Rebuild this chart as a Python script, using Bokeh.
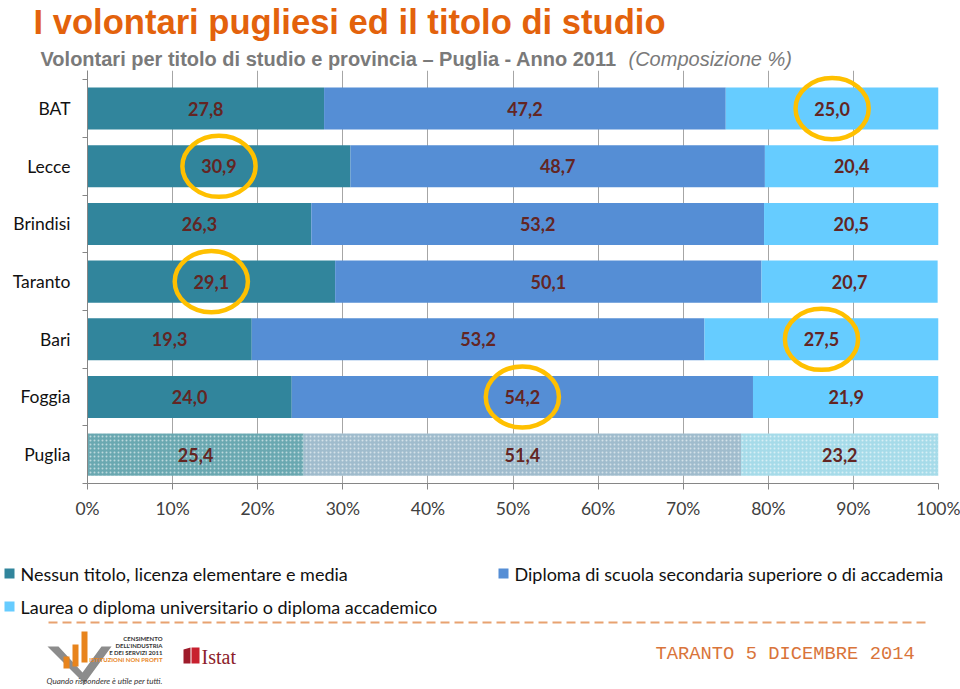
from bokeh.plotting import figure
from bokeh.layouts import column, row
from bokeh.models import (ColumnDataSource, Range1d, FixedTicker, Label,
                          PolyAnnotation, Arrow)
from bokeh.core.properties import value
from bokeh.embed import file_html
from bokeh.resources import INLINE

# ---------------- data ----------------
provinces = ["BAT", "Lecce", "Brindisi", "Taranto", "Bari", "Foggia", "Puglia"]
nessun = [27.8, 30.9, 26.3, 29.1, 19.3, 24.0, 25.4]
diploma = [47.2, 48.7, 53.2, 50.1, 53.2, 54.2, 51.4]
laurea = [25.0, 20.4, 20.5, 20.7, 27.5, 21.9, 23.2]
series_names = ["Nessun titolo, licenza elementare e media",
                "Diploma di scuola secondaria superiore o di accademia",
                "Laurea o diploma universitario o diploma accademico"]
x_ticks = [0, 10, 20, 30, 40, 50, 60, 70, 80, 90, 100]
x_tick_labels = ["0%", "10%", "20%", "30%", "40%", "50%", "60%", "70%", "80%", "90%", "100%"]
# highlighted cells: (province, series index)
circled = [("BAT", 2), ("Lecce", 0), ("Taranto", 0), ("Bari", 2), ("Foggia", 1)]

# ---------------- styles ----------------
colors = ["#31859c", "#558ed5", "#66ccff"]
total_colors = ["#6aa8b1", "#a0bccd", "#a6dbe9"]
label_color = "#632523"
FONT = "Lato"
W = 960
H_HEAD, H_CHART, H_FOOT = 70, 460, 159
legend_pos = [(9, 573), (503, 573), (9, 606)]   # square centres in page pixels
LABEL_DY = -7   # correction so that Label baselines land where intended


def blank_fig(height, y0, y1):
    f = figure(width=W, height=height, output_backend="svg", toolbar_location=None,
               x_range=Range1d(0, W), y_range=Range1d(y1, y0),
               x_axis_type=None, y_axis_type=None,
               min_border=0, min_border_left=0, min_border_right=0,
               min_border_top=0, min_border_bottom=0)
    f.grid.visible = False
    f.outline_line_color = None
    return f


def add_label(f, text, x, y, size, color, font="Liberation Sans", style="normal",
              align="left"):
    f.add_layout(Label(x=x, y=y + LABEL_DY, text=text, text_font=font, text_font_size=size,
                       text_color=color, text_font_style=style, text_align=align,
                       text_baseline="alphabetic"))


# ---------------- header ----------------
head = blank_fig(H_HEAD, 0, H_HEAD)
add_label(head, "I volontari pugliesi ed il titolo di studio", 33, 28, "34.6px", "#e3620c", style="bold")
add_label(head, "Volontari per titolo di studio e provincia \u2013 Puglia - Anno 2011", 40, 65,
          "20px", "#7a7a7a", style="bold")
add_label(head, "(Composizione %)", 628, 65, "20px", "#7a7a7a", style="italic")

# ---------------- chart ----------------
n = len(provinces)
ypos = [n - 1 - i for i in range(n)]
segs = [nessun, diploma, laurea]
lefts, rights = [], []
cum = [0.0] * n
for s in segs:
    lefts.append(cum[:])
    cum = [c + v for c, v in zip(cum, s)]
    rights.append(cum[:])

p = figure(width=W, height=H_CHART, output_backend="svg", toolbar_location=None,
           x_range=Range1d(0, 100), y_range=Range1d(-0.5, n - 0.5 + 0.16),
           min_border_left=87, min_border_right=22, min_border_top=0, min_border_bottom=47)
p.outline_line_color = None

for k in range(3):
    src = ColumnDataSource(dict(y=ypos[:-1], left=lefts[k][:-1], right=rights[k][:-1]))
    p.hbar(y="y", left="left", right="right", height=0.73, source=src,
           fill_color=colors[k], line_color=None)
    srcp = ColumnDataSource(dict(y=ypos[-1:], left=lefts[k][-1:], right=rights[k][-1:]))
    p.hbar(y="y", left="left", right="right", height=0.73, source=srcp,
           fill_color=total_colors[k], line_color=None,
           hatch_pattern="dot", hatch_color="white", hatch_alpha=0.55,
           hatch_scale=4, hatch_weight=1)

lx, ly, lt = [], [], []
for k in range(3):
    for i in range(n):
        lx.append((lefts[k][i] + rights[k][i]) / 2)
        ly.append(ypos[i])
        lt.append(f"{segs[k][i]:.1f}".replace(".", ","))
p.text(x=lx, y=ly, text=lt, text_align="center", text_baseline="middle",
       text_font=value(FONT), text_font_style="bold", text_font_size="18px",
       text_color=label_color)

ex, ey = [], []
for prov, k in circled:
    i = provinces.index(prov)
    ex.append((lefts[k][i] + rights[k][i]) / 2)
    ey.append(ypos[i])
p.ellipse(x=ex, y=ey, width=8.6, height=1.06, fill_alpha=0,
          line_color="#ffc000", line_width=4.5)

p.xaxis.ticker = FixedTicker(ticks=x_ticks)
p.xaxis.major_label_overrides = {t: l for t, l in zip(x_ticks, x_tick_labels)}
p.xaxis.axis_line_color = "#868686"
p.xaxis.major_tick_line_color = "#868686"
p.xaxis.major_tick_out = 6
p.xaxis.major_tick_in = 0
p.xaxis.minor_tick_line_color = None
p.xaxis.minor_tick_out = 0
p.xaxis.major_label_standoff = 8
p.xaxis.major_label_text_font = FONT
p.xaxis.major_label_text_font_size = "17.5px"
p.xaxis.major_label_text_color = "#404040"

boundaries = [y - 0.5 for y in range(n + 1)]
p.yaxis.ticker = FixedTicker(ticks=ypos, minor_ticks=boundaries)
p.yaxis.major_label_overrides = {y: name for y, name in zip(ypos, provinces)}
p.yaxis.axis_line_color = "#868686"
p.yaxis.major_tick_line_color = None
p.yaxis.major_tick_out = 0
p.yaxis.major_tick_in = 0
p.yaxis.minor_tick_line_color = "#868686"
p.yaxis.minor_tick_out = 5
p.yaxis.minor_tick_in = 0
p.yaxis.major_label_standoff = 12
p.yaxis.major_label_text_font = FONT
p.yaxis.major_label_text_font_size = "17.5px"
p.yaxis.major_label_text_color = "#111111"

p.ygrid.visible = False
p.xgrid.ticker = FixedTicker(ticks=x_ticks)
p.xgrid.grid_line_color = "#a6a6a6"
p.xgrid.grid_line_width = 1

# ---------------- footer ----------------
y0f = H_HEAD + H_CHART
foot = blank_fig(H_FOOT, y0f, y0f + H_FOOT)

# legend (squares + labels)
foot.rect(x=[a for a, b in legend_pos], y=[b for a, b in legend_pos], width=10, height=10,
          fill_color=colors, line_color=None)
foot.text(x=[a + 11 for a, b in legend_pos], y=[b for a, b in legend_pos], text=series_names,
          text_font=value(FONT), text_font_size="18px", text_color="#111111",
          text_baseline="middle", text_align="left")

foot.add_layout(Arrow(end=None, x_start=48, y_start=622, x_end=925, y_end=622,
                      line_color="#e8a270", line_width=2, line_dash="9 5"))
add_label(foot, "TARANTO 5 DICEMBRE 2014", 655, 660, "18.8px", "#d9743a", font="Liberation Mono")


def poly(f, pts, color):
    f.add_layout(PolyAnnotation(xs=[a for a, b in pts], ys=[b for a, b in pts],
                                fill_color=color, fill_alpha=1, line_color=None))


# census logo (approximate)
poly(foot, [(47, 646), (58, 646), (82, 672), (101, 646), (111, 646), (84, 683)], "#8c8c8c")
poly(foot, [(63, 668), (63, 656), (69, 656), (69, 668)], "#e8841c")
poly(foot, [(72, 666), (72, 644), (78, 644), (78, 666)], "#e8841c")
poly(foot, [(81, 662), (81, 631), (87, 631), (87, 662)], "#e8841c")
add_label(foot, "CENSIMENTO", 162, 645, "6px", "#333333", font="Lato", style="bold", align="right")
add_label(foot, "DELL'INDUSTRIA", 162, 652, "6px", "#333333", font="Lato", style="bold", align="right")
add_label(foot, "E DEI SERVIZI 2011", 162, 659, "6px", "#333333", font="Lato", style="bold", align="right")
add_label(foot, "ISTITUZIONI NON PROFIT", 162, 666, "6px", "#e8841c", font="Lato", style="bold", align="right")
add_label(foot, "Quando rispondere \u00e8 utile per tutti.", 46, 687, "8px", "#333333", font="Lato", style="italic")
# Istat logo
poly(foot, [(183, 649), (190, 647), (190, 663), (183, 663)], "#9e1b2a")
poly(foot, [(191, 647), (199, 647), (199, 663), (191, 663)], "#c8202f")
add_label(foot, "Istat", 201, 663, "20px", "#8c1d2a", font="Liberation Serif")

layout = column(row(head), row(p), row(foot), spacing=0)
open("out.html", "w").write(file_html(layout, INLINE))
